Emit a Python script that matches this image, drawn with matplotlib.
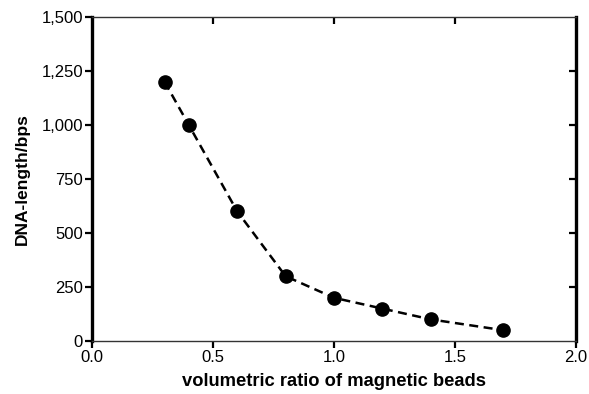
import matplotlib
matplotlib.use("Agg")
import matplotlib.pyplot as plt
from matplotlib.ticker import FuncFormatter

plt.rcParams['font.family'] = ['Liberation Sans', 'DejaVu Sans']

ratio = [0.3, 0.4, 0.6, 0.8, 1.0, 1.2, 1.4, 1.7]
length = [1200, 1000, 600, 300, 200, 150, 100, 50]
xticks = [0.0, 0.5, 1.0, 1.5, 2.0]
yticks = [0, 250, 500, 750, 1000, 1250, 1500]

fig = plt.figure(figsize=(5.89, 3.94), dpi=100)
ax = fig.add_axes([92/589, 1 - 341/394, (576-92)/589, (341-17)/394])

ax.plot(ratio, length, color='black', linestyle=(0, (3.6, 2.2)), linewidth=1.8,
        marker='o', markersize=9.5, markerfacecolor='black', markeredgecolor='black',
        clip_on=False, zorder=3)

ax.set_xlim(0, 2.0)
ax.set_ylim(0, 1500)
ax.set_xticks(xticks)
ax.set_yticks(yticks)
ax.xaxis.set_major_formatter(FuncFormatter(lambda v, p: f"{v:.1f}"))
ax.yaxis.set_major_formatter(FuncFormatter(lambda v, p: f"{int(v):,}"))

ax.spines['left'].set_linewidth(2.4)
ax.spines['right'].set_linewidth(2.4)
ax.spines['top'].set_linewidth(1.0)
ax.spines['bottom'].set_linewidth(1.0)
ax.spines['top'].set_color('#333333')
ax.spines['bottom'].set_color('#333333')

ax.tick_params(axis='both', which='major', direction='out', length=5, width=1.6,
               labelsize=12, colors='black', pad=1.5)

# inward ticks on top and right
axt = ax.secondary_xaxis('top')
axt.set_xticks(xticks[1:-1])
axt.tick_params(direction='in', length=5, width=1.6, labeltop=False)
axt.spines['top'].set_visible(False)
axr = ax.secondary_yaxis('right')
axr.set_yticks(yticks[1:-1])
axr.tick_params(direction='in', length=5, width=1.6, labelright=False)
axr.spines['right'].set_visible(False)

ax.set_xlabel('volumetric ratio of magnetic beads', fontsize=13.2, fontweight='bold', labelpad=6)
ax.set_ylabel('DNA-length/bps', fontsize=12.5, fontweight='bold', labelpad=8)

fig.savefig('out.png', dpi=100)
